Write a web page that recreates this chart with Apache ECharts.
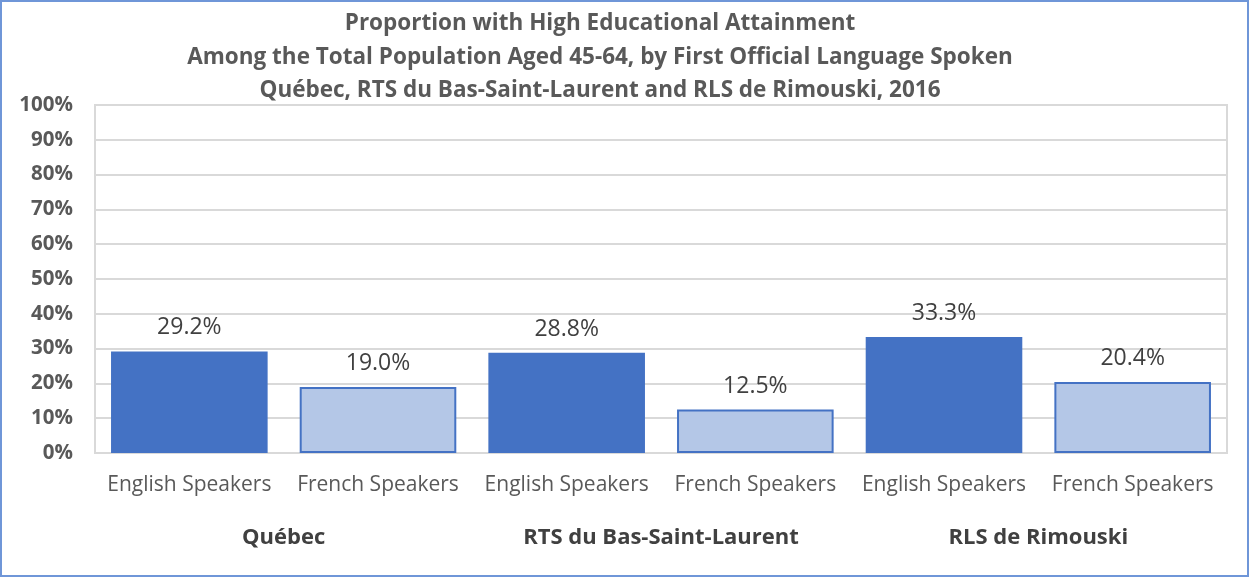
<!DOCTYPE html>
<html>
<head>
<meta charset="utf-8">
<script src="https://cdn.jsdelivr.net/npm/echarts@6/dist/echarts.min.js"></script>
<style>
  html, body { margin: 0; padding: 0; background: #fff; }
  #main { width: 1249px; height: 577px; box-sizing: border-box; border: 2px solid #6f96d8; }
</style>
</head>
<body>
<div id="main"></div>
<script>
// data
var categories = ['English Speakers', 'French Speakers', 'English Speakers', 'French Speakers', 'English Speakers', 'French Speakers'];
var groups = ['Québec', 'RTS du Bas-Saint-Laurent', 'RLS de Rimouski'];
var values = [29.2, 19.0, 28.8, 12.5, 33.3, 20.4];
var speakerType = ['en', 'fr', 'en', 'fr', 'en', 'fr'];

var FONT = '"Open Sans", Lato, sans-serif';
var colors = {
  en: { color: '#4472c4', borderColor: '#4472c4' },
  fr: { color: '#b4c7e7', borderColor: '#4472c4' }
};

var barData = values.map(function (v, i) {
  return { value: v, itemStyle: colors[speakerType[i]] };
});

var myChart = echarts.init(document.getElementById('main'));
myChart.setOption({
  animation: false,
  title: {
    text: 'Proportion with High Educational Attainment\nAmong the Total Population Aged 45-64, by First Official Language Spoken\nQuébec, RTS du Bas-Saint-Laurent and RLS de Rimouski, 2016',
    left: 593,
    top: 0,
    textAlign: 'center',
    textStyle: {
      fontFamily: FONT, fontSize: 22.5, fontWeight: 'bold', color: '#595959', lineHeight: 33.5
    }
  },
  grid: {
    left: 93, right: 20, top: 103, bottom: 122,
    show: true, borderColor: '#d9d9d9', borderWidth: 2, containLabel: false
  },
  xAxis: [
    {
      type: 'category',
      data: categories,
      axisLine: { lineStyle: { color: '#d9d9d9', width: 2 } },
      axisTick: { show: false },
      axisLabel: { fontFamily: FONT, fontSize: 21, color: '#595959', margin: 22, interval: 0 }
    },
    {
      type: 'category',
      data: groups,
      position: 'bottom',
      offset: 53,
      axisLine: { show: false },
      axisTick: { show: false },
      axisLabel: { fontFamily: FONT, fontSize: 22, fontWeight: 'bold', color: '#404040', margin: 21, interval: 0 }
    }
  ],
  yAxis: {
    type: 'value',
    min: 0, max: 100, interval: 10,
    axisLine: { show: false },
    axisTick: { show: false },
    splitLine: { lineStyle: { color: '#d9d9d9', width: 2 } },
    axisLabel: {
      fontFamily: FONT, fontSize: 20.5, fontWeight: 'bold', color: '#595959', margin: 22,
      formatter: '{value}%'
    }
  },
  series: [
    {
      type: 'bar',
      xAxisIndex: 0,
      data: barData,
      barWidth: '83%',
      itemStyle: { borderWidth: 2 },
      label: {
        show: true, position: 'top', distance: 12,
        fontFamily: FONT, fontSize: 23, color: '#404040',
        formatter: function (p) { return p.value.toFixed(1) + '%'; }
      }
    }
  ]
});
</script>
</body>
</html>
